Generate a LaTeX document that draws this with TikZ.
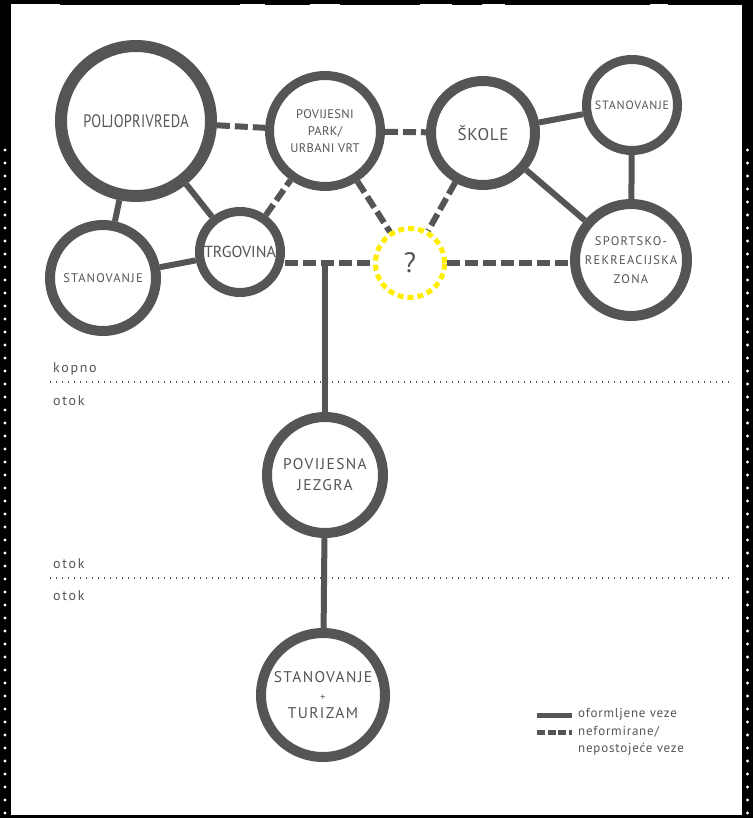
\documentclass[tikz,border=0pt]{standalone}
\usepackage{fontspec}
\usepackage{graphicx}
\setmainfont{PT Sans}
\usetikzlibrary{backgrounds}
\definecolor{ink}{HTML}{555555}
\definecolor{qy}{HTML}{FFEE00}
\newcommand{\lsp}[1]{\addfontfeature{LetterSpace=#1}}
\begin{document}
\begin{tikzpicture}[x=1pt,y=-1pt,
 hub/.style={circle, draw=ink, fill=white, text=ink, align=center, inner sep=0pt},
 link/.style={draw=ink, line width=6pt},
 dlink/.style={draw=ink, line width=6pt, dash pattern=on 13pt off 5pt},
 lbl/.style={text=ink, anchor=west, inner sep=0pt, font=\fontsize{14}{16}\selectfont\lsp{12}},
 leg/.style={text=ink, anchor=west, inner sep=0pt, font=\fontsize{13}{15}\selectfont\lsp{6}},
 sepline/.style={draw=ink, line width=1.2pt, dash pattern=on 1.2pt off 4.8pt}]
\useasboundingbox (0,0) rectangle (753,818);
\begin{scope}[on background layer]
 \fill[black] (0,0) rectangle (753,818);
 \fill[white] (11,4) rectangle (742,815);
 \foreach \a/\b in {60/240,265/310,340/420,452/482,505/650,668/742}
   \fill[black] (\a,0) rectangle (\b,5);
 \fill[black] (0,12) rectangle (11,60);
 \fill[black] (742,0) rectangle (753,45);
 \foreach \yy in {150,163,...,815} {
   \fill[white] (5,\yy) circle (1.6);
   \fill[white] (747.5,\yy) circle (1.6);
 }
\end{scope}
% nodes
\node[hub, line width=12pt, minimum size=150pt, font=\fontsize{18}{20}\selectfont\lsp{2}] (polj) at (136,121) {\scalebox{0.8}[1]{POLJOPRIVREDA}};
\node[hub, line width=9pt, minimum size=111pt, font=\fontsize{12.5}{17}\selectfont\lsp{3}] (park) at (325,131) {POVIJESNI\\PARK/\\URBANI VRT};
\node[hub, line width=10pt, minimum size=104pt, font=\fontsize{17}{20}\selectfont\lsp{4}] (skole) at (483,133) {ŠKOLE};
\node[hub, line width=9pt, minimum size=91pt, font=\fontsize{12}{14}\selectfont\lsp{7}] (stanr) at (632,105) {STANOVANJE};
\node[hub, line width=10pt, minimum size=106pt, font=\fontsize{12.5}{14}\selectfont\lsp{9}] (stanl) at (103,278) {STANOVANJE};
\node[hub, line width=9pt, minimum size=81pt, font=\fontsize{16}{18}\selectfont] (trg) at (240,252) {TRGOVINA};
\node[circle, draw=qy, fill=white, text=ink, line width=5pt, dash pattern=on 6pt off 4pt, minimum size=69pt, inner sep=0pt, font=\fontsize{28}{30}\selectfont] (q) at (410,263) {?};
\node[hub, line width=10pt, minimum size=112pt, font=\fontsize{12.5}{19}\selectfont\lsp{10}] (sport) at (631,260) {SPORTSKO-\\REKREACIJSKA\\ZONA};
\node[hub, line width=10pt, minimum size=116pt, font=\fontsize{15.5}{21}\selectfont\lsp{9}] (jez) at (325,475) {POVIJESNA\\JEZGRA};
\node[hub, line width=10pt, minimum size=124pt, font=\fontsize{15.5}{21}\selectfont\lsp{9}] (tur) at (323,695) {STANOVANJE\\[-3pt]{\fontsize{10}{10}\selectfont +}\\[-3pt]TURIZAM};
% separators and labels
\coordinate (s1a) at (50,382); \coordinate (s1b) at (730,382);
\coordinate (s2a) at (50,578); \coordinate (s2b) at (730,578);
\draw[sepline] (s1a) -- (s1b);
\draw[sepline] (s2a) -- (s2b);
\node[lbl] (kop) at (53,369) {kopno};
\node[lbl] (ot1) at (53,401) {otok};
\node[lbl] (ot2) at (53,564) {otok};
\node[lbl] (ot3) at (53,596) {otok};
% connectors
\begin{scope}[on background layer]
 \draw[link] (polj) -- (stanl);
 \draw[link] (polj) -- (trg);
 \draw[link] (stanl) -- (trg);
 \draw[dlink] (polj) -- (park);
 \draw[dlink] (trg) -- (park);
 \draw[dlink] (park) -- (skole);
 \draw[dlink] (park) -- (q);
 \draw[dlink] (skole) -- (q);
 \draw[link] (skole) -- (stanr);
 \draw[link] (skole) -- (sport);
 \draw[link] (stanr) -- (sport);
 \coordinate (tl) at (trg.east |- q.west);
 \coordinate (sl) at (sport.west |- q.east);
 \coordinate (j) at (325,263);
 \draw[dlink] (tl) -- (q.west);
 \draw[dlink] (q.east) -- (sl);
 \draw[link] (j) -- (jez);
 \draw[link] (jez) -- (tur);
\end{scope}
% legend
\coordinate (l1a) at (537,715); \coordinate (l1b) at (572,715);
\coordinate (l2a) at (537,732); \coordinate (l2b) at (572,732);
\draw[draw=ink, line width=5pt] (l1a) -- (l1b);
\draw[draw=ink, line width=5pt, dash pattern=on 8pt off 2.5pt] (l2a) -- (l2b);
\node[leg] (t1) at (578,714) {oformljene veze};
\node[leg] (t2) at (578,732) {neformirane/};
\node[leg] (t3) at (578,749) {nepostojeće veze};
\end{tikzpicture}
\end{document}
